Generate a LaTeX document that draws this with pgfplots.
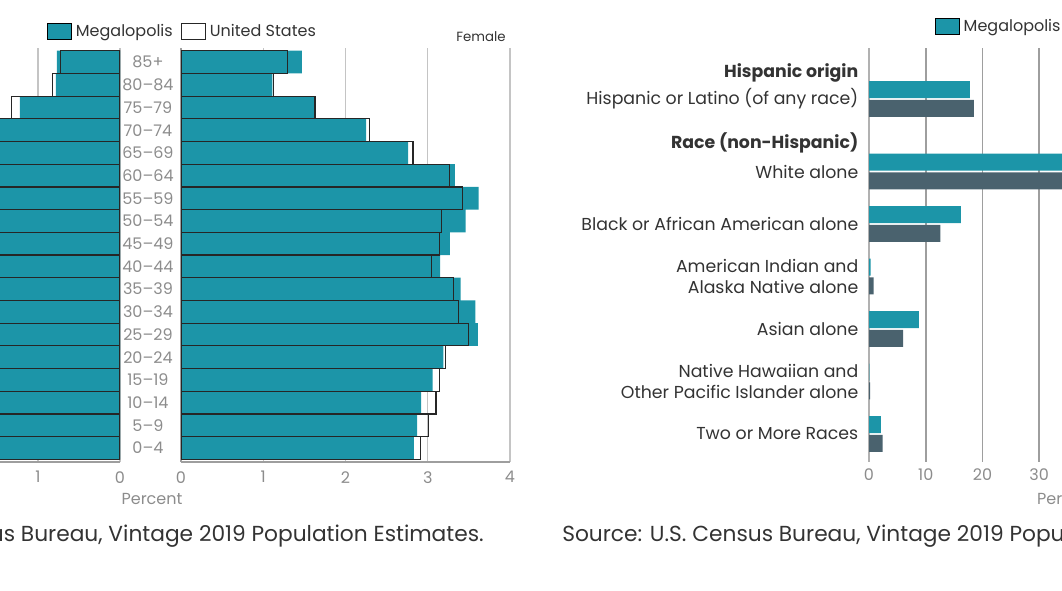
\documentclass[border=0pt]{standalone}
\usepackage{pgfplots}
\pgfplotsset{compat=1.18}
\usepackage{pgfplotstable}
\usepackage{fontspec}
\setmainfont{Poppins}

\definecolor{megal}{HTML}{1C95A8}
\definecolor{usdark}{HTML}{4A626E}
\definecolor{tickgray}{HTML}{8C8C8C}
\definecolor{txt}{HTML}{333333}
\definecolor{gridl}{HTML}{C4C4C4}
\definecolor{gridd}{HTML}{9E9E9E}

% age pyramid, idx 0 = 0-4 ... 17 = 85+
\pgfplotstableread{
idx fmeg fus mmeg mus
0  2.83 2.91 2.95 3.05
1  2.87 3.01 3.00 3.15
2  2.92 3.10 3.05 3.25
3  3.06 3.14 3.20 3.30
4  3.19 3.22 3.30 3.35
5  3.61 3.50 3.60 3.60
6  3.58 3.37 3.55 3.40
7  3.40 3.31 3.35 3.30
8  3.15 3.05 3.15 3.05
9  3.27 3.14 3.20 3.10
10 3.46 3.17 3.30 3.10
11 3.62 3.42 3.40 3.25
12 3.33 3.26 3.10 3.05
13 2.76 2.82 2.50 2.60
14 2.25 2.29 1.90 2.00
15 1.62 1.63 1.22 1.32
16 1.11 1.12 0.78 0.82
17 1.47 1.29 0.77 0.72
}\pyramid

% race / hispanic origin
\pgfplotstableread{
pos  meg  us
6.38 17.8 18.5
5    54.5 60.1
4    16.2 12.6
3    0.3  0.8
2    8.8  6.0
1    0.05 0.2
0    2.1  2.4
}\race

\begin{document}
\begin{tikzpicture}[x=0.75pt,y=0.75pt]
\path[use as bounding box] (0,0) rectangle (1062,591);
\clip (0,0) rectangle (1062,591);

\pgfplotsset{
  every axis/.append style={
    font=\fontsize{12}{14}\selectfont,
    /pgf/number format/assume math mode=true,
    tick label style={text=tickgray},
    scale only axis,
  },
  sq legend/.style={legend image code/.code={\draw[##1] (0pt,-6.2pt) rectangle (18pt,6.2pt);}},
}

% male side
\begin{axis}[
  at={(90pt,96.75pt)}, anchor=south east,
  width=92.4pt, height=310.5pt,
  x dir=reverse, xmin=0, xmax=1.5,
  ymin=-0.617, ymax=17.62,
  xtick={0,1}, ytick=\empty,
  xticklabel style={yshift=-3.5pt},
  xmajorgrids, grid style={gridl, line width=1pt},
  axis x line*=bottom, axis y line*=left,
  axis line style={gridd, line width=1pt},
  major tick length=3pt, xtick style={gridl, line width=1pt},
  xbar, bar width=1,
]
\addplot[fill=megal, draw=none, bar shift=0pt] table[x=mmeg, y=idx]{\pyramid};
\addplot[draw=black!85, fill=none, line width=0.9pt, bar shift=0pt] table[x=mus, y=idx]{\pyramid};
\end{axis}

% female side
\begin{axis}[
  at={(135.75pt,96.75pt)}, anchor=south west,
  width=246.75pt, height=310.5pt,
  xmin=0, xmax=4,
  ymin=-0.617, ymax=17.62,
  xtick={0,1,2,3,4},
  xticklabel style={yshift=-3.5pt},
  ytick={0,...,17},
  yticklabels={0–4,5–9,10–14,15–19,20–24,25–29,30–34,35–39,40–44,45–49,50–54,55–59,60–64,65–69,70–74,75–79,80–84,85+},
  yticklabel style={anchor=center, xshift=-21.8pt},
  ytick style={draw=none},
  xmajorgrids, grid style={gridl, line width=1pt},
  axis x line*=bottom, axis y line*=left,
  axis line style={gridd, line width=1pt},
  major tick length=3pt, xtick style={gridl, line width=1pt},
  xbar, bar width=1, sq legend,
  legend style={draw=none, fill=none, at={(-0.419,1.04)}, anchor=west,
    legend columns=2, text=txt, font=\fontsize{12}{14}\selectfont,
    nodes={inner xsep=3pt},
    /tikz/every even column/.append style={column sep=3pt}},
  legend cell align=left,
]
\addplot[fill=megal, draw=none, bar shift=0pt, sq legend] table[x=fmeg, y=idx]{\pyramid};
\addlegendentry{Megalopolis}
\addplot[draw=black!85, fill=none, line width=0.9pt, bar shift=0pt, sq legend] table[x=fus, y=idx]{\pyramid};
\addlegendentry{United States}
\end{axis}

\node[text=tickgray, font=\fontsize{12}{14}\selectfont] at (152,92) {Percent};
\node[text=txt, font=\fontsize{10}{12}\selectfont] at (481,554) {Female};

% race and hispanic origin
\begin{axis}[
  at={(651.75pt,96.75pt)}, anchor=south west,
  width=297.75pt, height=310.5pt,
  xmin=0, xmax=70, ymin=-0.533, ymax=7.352,
  xtick={0,10,...,70},
  xticklabel style={yshift=-1.5pt},
  ytick={0,1,2,3,4,5,5.54,6.38,6.88},
  yticklabels={Two or More Races,
    Native Hawaiian and\\Other Pacific Islander alone,
    Asian alone,
    American Indian and\\Alaska Native alone,
    Black or African American alone,
    White alone,
    \textbf{Race (non-Hispanic)},
    Hispanic or Latino (of any race),
    \textbf{Hispanic origin}},
  yticklabel style={align=right, text=txt, font=\fontsize{13}{15.75}\selectfont, xshift=-1.5pt},
  ytick style={draw=none},
  xmajorgrids, grid style={gridd, line width=1.3pt},
  axis x line*=bottom, x axis line style={draw=none},
  axis y line*=left, y axis line style={gridd!80, line width=1.5pt},
  major tick length=3pt, xtick style={gridd, line width=1pt},
  xbar, bar width=12.75pt, sq legend,
  xlabel={Percent}, xlabel style={text=tickgray, yshift=-3pt},
  legend style={draw=none, fill=none, at={(0.156,1.053)}, anchor=west,
    legend columns=2, text=txt, font=\fontsize{12}{14}\selectfont,
    nodes={inner xsep=3pt},
    /tikz/every even column/.append style={column sep=3pt}},
  legend cell align=left,
]
\addplot[fill=megal, draw=none, bar shift=7pt, sq legend] table[x=meg, y=pos]{\race};
\addlegendentry{Megalopolis}
\addplot[fill=usdark, draw=none, bar shift=-7pt, sq legend] table[x=us, y=pos]{\race};
\addlegendentry{United States}
\end{axis}

\node[anchor=east, inner sep=0pt, text=txt, font=\fontsize{16.3}{19}\selectfont] at (484,55) {Source: U.S. Census Bureau, Vintage 2019 Population Estimates.};
\node[anchor=west, inner sep=0pt, text=txt, font=\fontsize{16.3}{19}\selectfont] at (562,55) {Source: U.S. Census Bureau, Vintage 2019 Population Estimates.};
\end{tikzpicture}
\end{document}
